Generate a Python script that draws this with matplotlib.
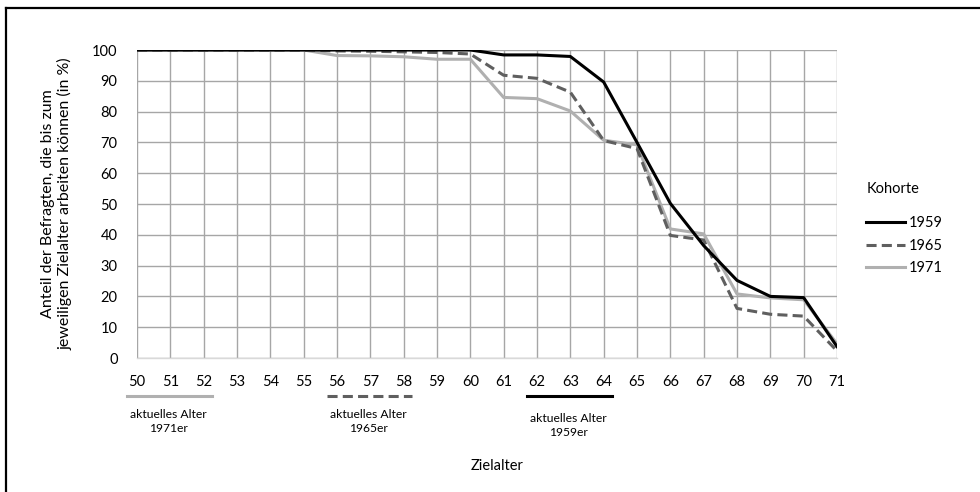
import numpy as np
import matplotlib
matplotlib.use("Agg")
from matplotlib import pyplot as plt
from matplotlib.lines import Line2D
import matplotlib.transforms as mtransforms

plt.rcParams['font.family'] = ['Lato', 'DejaVu Sans']

# Zielalter (x) und Anteile je Kohorte (in %)
ages = list(range(50, 72))
k1959 = [100, 100, 100, 100, 100, 100, 100, 100, 100, 100, 100,
         98.4, 98.4, 97.9, 89.6, 70.0, 50.2, 36.5, 25.2, 20.0, 19.6, 3.7]
k1965 = [100, 100, 100, 100, 100, 100, 99.7, 99.6, 99.4, 99.2, 98.7,
         91.8, 90.8, 86.3, 70.6, 68.0, 39.8, 38.3, 16.1, 14.2, 13.6, 2.3]
k1971 = [100, 100, 100, 100, 100, 100, 98.2, 98.1, 97.8, 97.0, 97.0,
         84.6, 84.2, 80.2, 70.7, 69.2, 41.9, 40.3, 20.8, 19.5, 18.9, 4.6]

# aktuelles Alter der Kohorten (Spanne)
cur_1971 = (50, 52)
cur_1965 = (56, 58)
cur_1959 = (62, 64)

c_black = "#000000"
c_dash = "#5f5f5f"
c_light = "#b0b0b0"
c_grid = "#a6a6a6"

fig = plt.figure(figsize=(9.8, 4.92), dpi=100)
ax = fig.add_axes([137/980, 1-358/492, 700/980, 308/492])

ax.plot(ages, k1959, color=c_black, lw=2.2, label="1959", zorder=5)
ax.plot(ages, k1965, color=c_dash, lw=2.2, dashes=(3.3, 1.7), label="1965", zorder=4)
ax.plot(ages, k1971, color=c_light, lw=2.2, label="1971", zorder=3)

ax.set_xlim(50, 71)
ax.set_ylim(0, 100)
ax.set_xticks(ages)
ax.set_yticks(np.arange(0, 101, 10))
ax.grid(True, color=c_grid, lw=1.0)
ax.set_axisbelow(True)
for s in ['top', 'right', 'left']:
    ax.spines[s].set_visible(False)
ax.spines['bottom'].set_color("#d9d9d9")
ax.spines['bottom'].set_linewidth(1.0)
ax.tick_params(length=0, labelsize=10.5, pad=12, colors="#000000")
ax.tick_params(axis='y', pad=14)

ax.set_ylabel("Anteil der Befragten, die bis zum\njeweiligen Zielalter arbeiten können (in %)",
              fontsize=11.5, labelpad=14, linespacing=1.2)

# Markierungen des aktuellen Alters unter der x-Achse
trans = mtransforms.blended_transform_factory(ax.transData, ax.transAxes)
marks = [(cur_1971, c_light, None, "1971er", -0.205),
         (cur_1965, c_dash, (3.3, 1.7), "1965er", -0.205),
         (cur_1959, c_black, None, "1959er", -0.218)]
for (a0, a1), col, ds, lab, ty in marks:
    ln = Line2D([a0 - 0.3, a1 + 0.25], [-0.123, -0.123], color=col, lw=2.2,
                transform=trans, clip_on=False)
    if ds:
        ln.set_dashes(ds)
    ax.add_line(ln)
    ax.text((a0 + a1) / 2 - 0.05, ty, "aktuelles Alter\n" + lab, transform=trans,
            ha='center', va='center', fontsize=8.7, linespacing=1.35)

ax.text(60.8, -0.352, "Zielalter", transform=trans, ha='center', va='center', fontsize=10.5)

# Legende
fig.text(867/980, 1-189/492, "Kohorte", ha='left', va='center', fontsize=10.5)
leg = fig.legend(loc='upper left', bbox_to_anchor=(866/980, 1-216/492), frameon=False,
                 fontsize=10.5, borderpad=0, borderaxespad=0, handlelength=2.7,
                 handletextpad=0.25, labelspacing=0.6)

# Rahmen
fig.add_artist(Line2D([6/980, 1], [1-7.5/492, 1-7.5/492], color="black", lw=1.6,
                      transform=fig.transFigure))
fig.add_artist(Line2D([6/980, 6/980], [0, 1-7.5/492], color="black", lw=1.6,
                      transform=fig.transFigure))

fig.savefig("out.png", dpi=100)
